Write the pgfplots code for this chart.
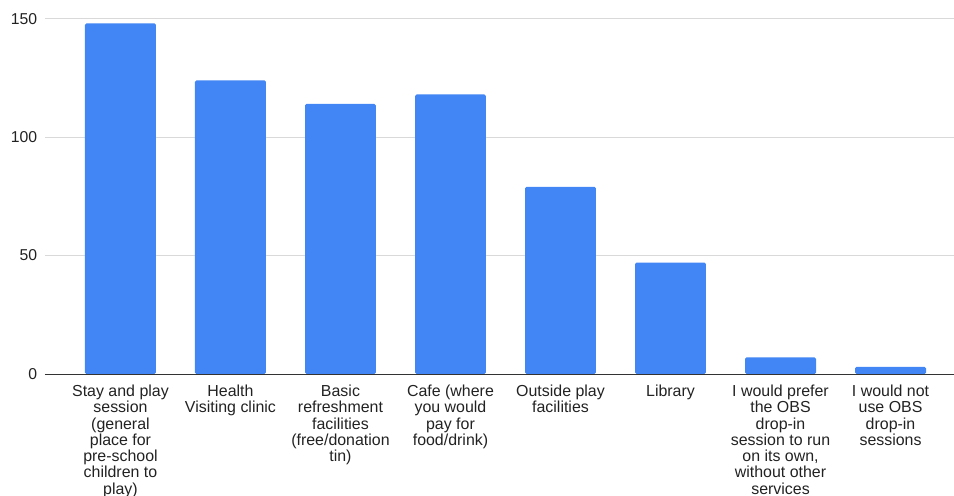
\documentclass[border=0pt]{standalone}
\usepackage{pgfplots}
\pgfplotsset{compat=1.18}
\usepackage{fontspec}
\setmainfont{Liberation Sans}
\definecolor{barblue}{HTML}{4285F4}
\definecolor{gridgray}{HTML}{D9D9D9}
\definecolor{axisgray}{HTML}{333333}
\definecolor{textgray}{HTML}{222222}
\begin{document}
\begin{tikzpicture}
\begin{axis}[
  at={(0,0)}, anchor=south west,
  scale only axis,
  width=909bp, height=355.3bp,
  xmin=-0.686, xmax=7.577,
  ymin=0, ymax=150,
  clip=false,
  axis line style={draw=none},
  tick style={draw=none},
  ytick={0,50,100,150},
  ymajorgrids,
  grid style={gridgray, line width=1bp},
  xtick={0,...,7},
  xticklabels={
    {Stay and play\\session\\(general\\place for\\pre-school\\children to\\play)},
    {Health\\Visiting clinic},
    {Basic\\refreshment\\facilities\\(free/donation\\tin)},
    {Cafe (where\\you would\\pay for\\food/drink)},
    {Outside play\\facilities},
    {Library},
    {I would prefer\\the OBS\\drop-in\\session to run\\on its own,\\without other\\services},
    {I would not\\use OBS\\drop-in\\sessions}
  },
  xticklabel style={align=center, anchor=north, inner sep=0pt, yshift=-11bp,
    font=\fontsize{16}{16.3}\selectfont, text=textgray},
  yticklabel style={anchor=east, inner sep=0pt, xshift=-7.7bp,
    font=\fontsize{15.8}{16.3}\selectfont, text=textgray},
  /pgf/number format/assume math mode=true,
]
\addplot[ybar, bar width=0.645, fill=barblue, draw=none, rounded corners=1.5bp]
  coordinates {(0,148) (1,124) (2,114) (3,118) (4,79) (5,47) (6,7) (7,3)};
\draw[axisgray, line width=1bp] (axis cs:-0.686,0) -- (axis cs:7.577,0);
\end{axis}
\pgfresetboundingbox
\useasboundingbox (-45bp,-122bp) rectangle (909bp,374bp);
\end{tikzpicture}
\end{document}
